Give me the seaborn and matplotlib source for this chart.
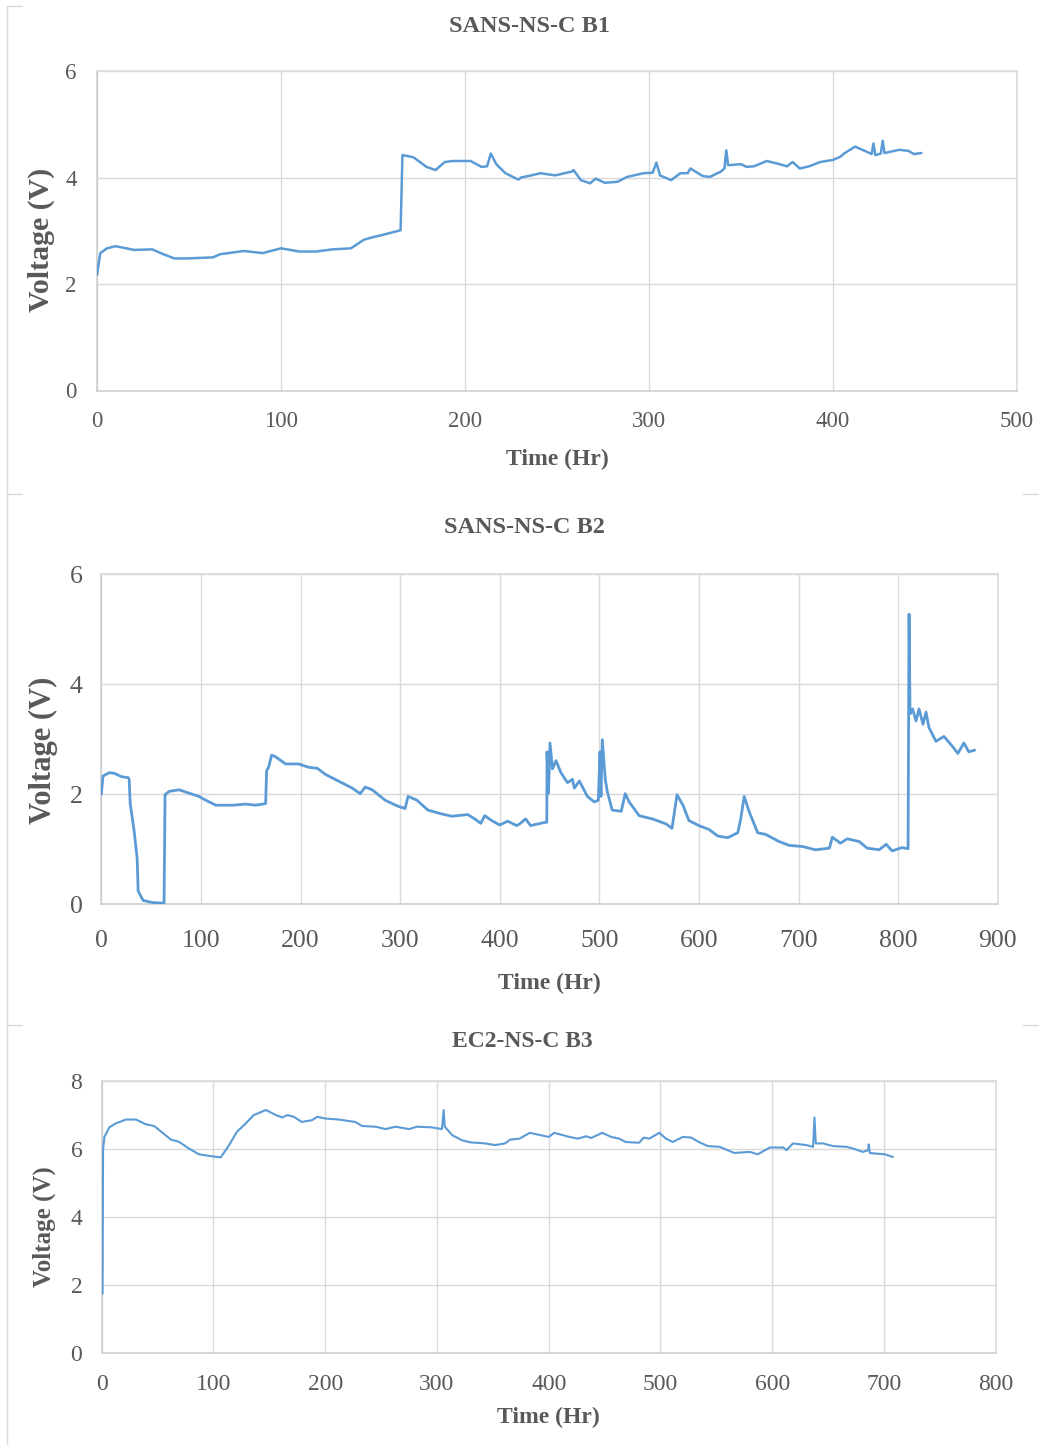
import matplotlib
matplotlib.use("Agg")
import matplotlib.pyplot as plt
from matplotlib.lines import Line2D
import seaborn as sns
import pandas as pd

# ---- SANS-NS-C B1 ----
b1_time = [0, 1.8, 5.4, 10, 16, 20, 30, 36, 42, 49, 63, 67, 80, 90, 100, 110, 119, 128,
           138, 145, 150, 155, 165, 166, 172, 179, 184, 189, 193, 203, 209, 212, 214, 217,
           222, 229, 230.5, 236, 241, 249, 258, 259, 263, 268, 271, 276, 283, 288, 297, 302,
           304, 306, 312, 317, 321, 322.5, 329, 333, 339, 341, 342, 343, 350, 353, 357, 364,
           371, 375, 378, 382, 387, 393, 400, 404, 406, 412, 416, 421, 422, 423, 426, 427,
           428, 436, 441, 444, 448]
b1_volt = [2.17, 2.58, 2.67, 2.71, 2.67, 2.64, 2.65, 2.56, 2.48, 2.48, 2.50, 2.56, 2.62, 2.58,
           2.67, 2.61, 2.61, 2.65, 2.67, 2.83, 2.88, 2.92, 3.01, 4.42, 4.38, 4.20, 4.14, 4.29,
           4.31, 4.31, 4.20, 4.21, 4.45, 4.25, 4.08, 3.96, 4.00, 4.04, 4.08, 4.04, 4.11, 4.14,
           3.95, 3.89, 3.98, 3.90, 3.92, 4.01, 4.08, 4.09, 4.28, 4.04, 3.95, 4.08, 4.08, 4.17,
           4.03, 4.01, 4.11, 4.17, 4.51, 4.23, 4.25, 4.20, 4.21, 4.31, 4.25, 4.21, 4.29, 4.17,
           4.21, 4.29, 4.33, 4.39, 4.45, 4.58, 4.52, 4.44, 4.64, 4.42, 4.45, 4.69, 4.46, 4.52,
           4.50, 4.44, 4.46]

# ---- SANS-NS-C B2 ----
b2_time = [0, 1.7, 8, 13, 20, 27, 28, 29, 33, 36, 37, 42, 52, 63, 64, 68, 78, 88, 98, 105,
           115, 132, 145, 155, 165, 166, 168, 171, 175, 185, 198, 208, 217, 225, 238, 252,
           260, 265, 272, 285, 298, 305, 308, 317, 328, 342, 352, 368, 375, 381, 385, 392,
           400, 408, 417, 420, 426, 431, 446, 447.3, 447.5, 449, 450.5, 453, 456.5, 461.5,
           468, 473, 475, 480, 488, 495, 499, 500.7, 501.7, 503, 506, 508, 513, 522, 526,
           530, 540, 553.5, 567, 573, 578, 584, 590, 600, 610, 619, 629, 639, 642, 645.5,
           650.5, 659, 667, 680.5, 690.7, 704, 717, 731, 734, 742, 749, 761, 769, 781, 788,
           794, 804, 810, 811, 812, 814.5, 818, 821, 825, 828, 831, 838, 846, 855, 860, 866,
           871, 877]
b2_volt = [2.00, 2.33, 2.39, 2.38, 2.32, 2.30, 2.27, 1.83, 1.33, 0.83, 0.24, 0.07, 0.03, 0.02,
           1.99, 2.05, 2.08, 2.02, 1.96, 1.89, 1.80, 1.80, 1.82, 1.80, 1.83, 2.43, 2.49, 2.71,
           2.68, 2.55, 2.55, 2.49, 2.47, 2.36, 2.24, 2.11, 2.01, 2.13, 2.08, 1.89, 1.78, 1.74,
           1.96, 1.89, 1.71, 1.64, 1.60, 1.63, 1.55, 1.47, 1.61, 1.52, 1.44, 1.51, 1.43, 1.46,
           1.55, 1.43, 1.49, 1.49, 2.77, 2.02, 2.93, 2.46, 2.61, 2.39, 2.21, 2.27, 2.11, 2.24,
           1.96, 1.86, 1.89, 2.77, 1.96, 2.99, 2.27, 2.05, 1.71, 1.69, 2.01, 1.86, 1.61, 1.55,
           1.46, 1.38, 1.99, 1.80, 1.52, 1.43, 1.36, 1.24, 1.21, 1.30, 1.55, 1.96, 1.68, 1.30,
           1.27, 1.14, 1.07, 1.05, 0.99, 1.02, 1.22, 1.11, 1.19, 1.14, 1.02, 0.99, 1.09, 0.97,
           1.03, 1.01, 5.27, 3.46, 3.55, 3.33, 3.55, 3.27, 3.49, 3.21, 2.96, 3.05, 2.86, 2.74,
           2.93, 2.77, 2.80]

# ---- EC2-NS-C B3 ----
b3_time = [0.8, 1.2, 2.4, 6.8, 12.8, 21.7, 30.7, 39.6, 47, 54.5, 62, 69, 78, 87, 99, 106.5,
           114, 121, 129, 136, 147, 156, 161.6, 166, 172, 179, 188, 193, 200, 212, 227, 233,
           245, 254, 263, 275, 282, 295.5, 304.5, 306, 307, 313.7, 322.6, 330, 343, 352, 361,
           365.5, 374, 383, 400, 405, 418.5, 426, 433.5, 438, 448, 456, 463, 469, 481, 485,
           490, 499, 505, 511, 520, 527.5, 535, 542.5, 553, 566, 580, 587, 598, 610, 612.7,
           618.6, 630.6, 636.6, 637.8, 639, 645.5, 654.5, 666.4, 672.4, 681, 686, 686.4,
           687.3, 693, 700.8, 708]
b3_volt = [1.75, 5.96, 6.35, 6.63, 6.75, 6.86, 6.86, 6.72, 6.67, 6.47, 6.27, 6.21, 6.01, 5.84,
           5.78, 5.75, 6.11, 6.50, 6.75, 6.99, 7.14, 6.99, 6.92, 6.99, 6.94, 6.79, 6.84, 6.94,
           6.89, 6.86, 6.79, 6.67, 6.65, 6.58, 6.65, 6.58, 6.65, 6.63, 6.58, 7.14, 6.65, 6.40,
           6.25, 6.19, 6.16, 6.11, 6.16, 6.27, 6.30, 6.47, 6.35, 6.47, 6.35, 6.30, 6.37, 6.32,
           6.47, 6.35, 6.30, 6.20, 6.18, 6.33, 6.30, 6.47, 6.30, 6.20, 6.35, 6.33, 6.19, 6.08,
           6.06, 5.88, 5.91, 5.84, 6.04, 6.04, 5.96, 6.16, 6.11, 6.06, 6.92, 6.16, 6.16, 6.08,
           6.06, 6.01, 5.91, 5.96, 6.13, 5.88, 5.86, 5.84, 5.76]

titles = ["SANS-NS-C B1", "SANS-NS-C B2", "EC2-NS-C B3"]
x_ticks = [list(range(0, 501, 100)), list(range(0, 901, 100)), list(range(0, 801, 100))]
y_ticks = [[0, 2, 4, 6], [0, 2, 4, 6], [0, 2, 4, 6, 8]]

sns.set_theme(style="white")
plt.rcParams["font.family"] = ["Liberation Serif", "DejaVu Serif"]

TEXT = "#595959"
GRID = "#D9D9D9"
LINE = "#5B9BD5"

W, H = 1039, 1445
fig = plt.figure(figsize=(W / 100, H / 100), dpi=100)
fig.patch.set_facecolor("white")

# plot-area boxes in pixels: left, top, right, bottom
boxes = [(97, 71, 1017, 390.5), (101.3, 574, 997.7, 904.3), (101.7, 1080.7, 995.7, 1353.3)]
series = [(b1_time, b1_volt), (b2_time, b2_volt), (b3_time, b3_volt)]
tick_size = [16.5, 18.5, 17]
ylab_size = [21.5, 22, 18]
title_size = [17.5, 17.5, 17]
line_w = [1.8, 2.0, 1.5]
xpad = [14.5, 18.5, 15]
ypad = [14.5, 13.5, 14]
# label centres in pixels: ylabel (x, y), xlabel y, title (x, y)
ylab_pos = [(41.7, 240), (43, 750), (44, 1226.7)]
xlab_y = [459, 983, 1417]
title_pos = [(529, 26), (524, 527), (522.5, 1041.7)]

for i, (l, t, r, b) in enumerate(boxes):
    ax = fig.add_axes([l / W, 1 - b / H, (r - l) / W, (b - t) / H])
    tx, vy = series[i]
    df = pd.DataFrame({"Time (Hr)": tx, "Voltage (V)": vy})
    sns.lineplot(data=df, x="Time (Hr)", y="Voltage (V)", ax=ax, color=LINE,
                 linewidth=line_w[i], estimator=None, sort=False, zorder=3)

    ax.set_xlim(x_ticks[i][0], x_ticks[i][-1])
    ax.set_ylim(y_ticks[i][0], y_ticks[i][-1])
    ax.set_xticks(x_ticks[i])
    ax.set_yticks(y_ticks[i])
    ax.grid(True, color=GRID, linewidth=1.0)
    ax.set_axisbelow(True)
    for sp in ax.spines.values():
        sp.set_visible(True)
        sp.set_color(GRID)
        sp.set_linewidth(1.1)
        sp.set_zorder(2)
    ax.spines["bottom"].set_color("#CCCCCC")
    ax.spines["left"].set_color("#CCCCCC")
    ax.tick_params(axis="x", length=0, pad=xpad[i], labelsize=tick_size[i], labelcolor=TEXT)
    ax.tick_params(axis="y", length=0, pad=ypad[i], labelsize=tick_size[i], labelcolor=TEXT)

    pw, ph = r - l, b - t
    ax.set_xlabel("Time (Hr)", fontsize=17, fontweight="bold", color=TEXT)
    ax.xaxis.label.set_va("center")
    ax.xaxis.set_label_coords(0.5, (b - xlab_y[i]) / ph)
    ax.set_ylabel("Voltage (V)", fontsize=ylab_size[i], fontweight="bold", color=TEXT)
    ax.yaxis.label.set_va("center")
    ax.yaxis.label.set_ha("center")
    yx, yy = ylab_pos[i]
    ax.yaxis.set_label_coords((yx - l) / pw, (b - yy) / ph)

    ttx, tty = title_pos[i]
    ax.text((ttx - l) / pw, (b - tty) / ph, titles[i], transform=ax.transAxes,
            ha="center", va="center", fontsize=title_size[i], fontweight="bold", color=TEXT)

# chart-frame edges of the stacked panels
def seg(x0, y0, x1, y1):
    fig.add_artist(Line2D([x0 / W, x1 / W], [1 - y0 / H, 1 - y1 / H],
                          transform=fig.transFigure, color=GRID, linewidth=1.0))

seg(7.3, 6, 7.3, H)
for yy in (6, 494, 1025):
    seg(7.3, yy, 22, yy)
for yy in (494, 1025):
    seg(1023, yy, W, yy)

fig.savefig("out.png", dpi=100, facecolor="white")
